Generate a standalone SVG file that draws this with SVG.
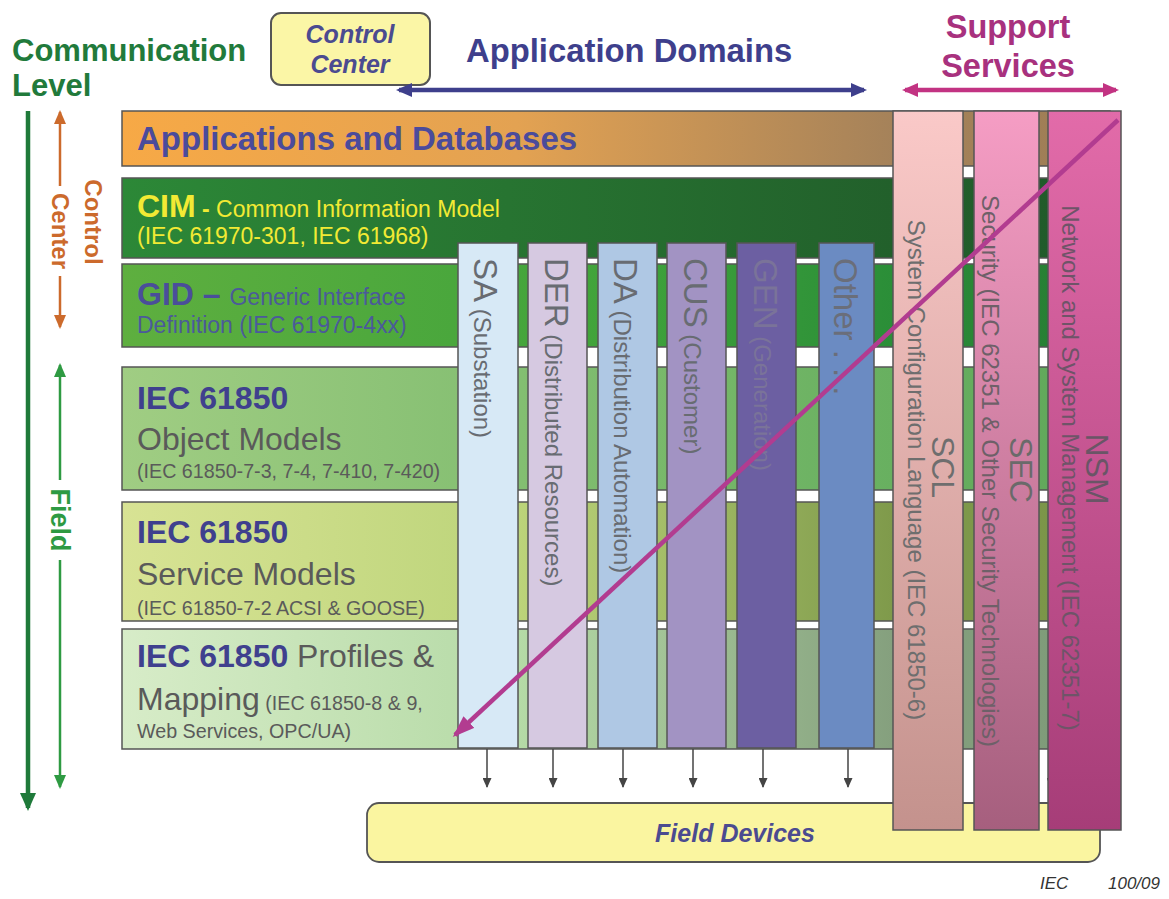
<svg xmlns="http://www.w3.org/2000/svg" width="1169" height="899" viewBox="0 0 1169 899">
<style>
text{font-family:"Liberation Sans",Arial,sans-serif}
.b{font-weight:bold}
.bi{font-weight:bold;font-style:italic}
.row{stroke:#555;stroke-width:1.5}
.col{stroke:#555;stroke-width:1.5}
.big{font-size:32px}
.mid{font-size:23px}
.sm{font-size:19.7px}
.blue{fill:#3F408E}
.gray{fill:#5A5A5A}
.yel{fill:#F2EA34}
.cbig{font-size:33px}
.csm{font-size:24px}
.ctext{fill:#686C72}
.sbig{font-size:32px}
.ssm{font-size:24px}
.dn{stroke:#444;stroke-width:1.5;fill:none}
</style>
<defs>
<linearGradient id="gApps" x1="0" x2="1" y1="0" y2="0"><stop offset="0" stop-color="#F7A946"/><stop offset="0.4" stop-color="#E3A252"/><stop offset="0.78" stop-color="#A5825A"/><stop offset="1" stop-color="#9E7D55"/></linearGradient>
<linearGradient id="gCIM" x1="0" x2="1" y1="0" y2="0"><stop offset="0" stop-color="#2C8837"/><stop offset="0.78" stop-color="#22602B"/><stop offset="1" stop-color="#21592A"/></linearGradient>
<linearGradient id="gGID" x1="0" x2="1" y1="0" y2="0"><stop offset="0" stop-color="#5EAF3F"/><stop offset="0.5" stop-color="#40A33B"/><stop offset="0.78" stop-color="#2B8E38"/><stop offset="1" stop-color="#267A33"/></linearGradient>
<linearGradient id="gOM" x1="0" x2="1" y1="0" y2="0"><stop offset="0" stop-color="#A0CD83"/><stop offset="0.78" stop-color="#68B060"/><stop offset="1" stop-color="#60A65A"/></linearGradient>
<linearGradient id="gSM" x1="0" x2="1" y1="0" y2="0"><stop offset="0" stop-color="#D8E394"/><stop offset="0.4" stop-color="#BCD47A"/><stop offset="0.78" stop-color="#7F9A4B"/><stop offset="1" stop-color="#7A9448"/></linearGradient>
<linearGradient id="gPM" x1="0" x2="1" y1="0" y2="0"><stop offset="0" stop-color="#D7ECC8"/><stop offset="0.4" stop-color="#B5DAA6"/><stop offset="0.78" stop-color="#85A07E"/><stop offset="1" stop-color="#7D9A78"/></linearGradient>
<linearGradient id="gSCL" x1="0" x2="0" y1="0" y2="1"><stop offset="0" stop-color="#FAC9C8"/><stop offset="1" stop-color="#C4928D"/></linearGradient>
<linearGradient id="gSEC" x1="0" x2="0" y1="0" y2="1"><stop offset="0" stop-color="#F59DC4"/><stop offset="1" stop-color="#A65F7E"/></linearGradient>
<linearGradient id="gNSM" x1="0" x2="0" y1="0" y2="1"><stop offset="0" stop-color="#E26BA9"/><stop offset="1" stop-color="#A63D78"/></linearGradient>
<marker id="mBlue" viewBox="0 0 16 14" refX="13" refY="7" markerWidth="16" markerHeight="14" markerUnits="userSpaceOnUse" orient="auto-start-reverse"><path d="M0,0 L16,7 L0,14 z" fill="#3E3F8C"/></marker>
<marker id="mMag" viewBox="0 0 16 14" refX="13" refY="7" markerWidth="16" markerHeight="14" markerUnits="userSpaceOnUse" orient="auto-start-reverse"><path d="M0,0 L16,7 L0,14 z" fill="#C23382"/></marker>
<marker id="mOr" viewBox="0 0 14 12" refX="12" refY="6" markerWidth="14" markerHeight="12" markerUnits="userSpaceOnUse" orient="auto-start-reverse"><path d="M0,0 L14,6 L0,12 z" fill="#CC6A2C"/></marker>
<marker id="mGrn" viewBox="0 0 14 12" refX="12" refY="6" markerWidth="14" markerHeight="12" markerUnits="userSpaceOnUse" orient="auto-start-reverse"><path d="M0,0 L14,6 L0,12 z" fill="#2E9A42"/></marker>
<marker id="mDG" viewBox="0 0 18 16" refX="15" refY="8" markerWidth="18" markerHeight="16" markerUnits="userSpaceOnUse" orient="auto"><path d="M0,0 L18,8 L0,16 z" fill="#1F7A3A"/></marker>
<marker id="mDn" viewBox="0 0 10 9" refX="9" refY="4.5" markerWidth="10" markerHeight="9" markerUnits="userSpaceOnUse" orient="auto"><path d="M0,0 L10,4.5 L0,9 z" fill="#444"/></marker>
<marker id="mDiag" viewBox="0 0 22 16" refX="19" refY="8" markerWidth="22" markerHeight="16" markerUnits="userSpaceOnUse" orient="auto"><path d="M0,0 L22,8 L0,16 z" fill="#B23C90"/></marker>
</defs>
<rect width="1169" height="899" fill="#fff"/>

<g id="title-level">
<text class="b" x="12" y="61" font-size="31" fill="#217A3B">Communication</text>
<text class="b" x="12" y="96" font-size="31" fill="#217A3B">Level</text>
</g>
<g id="control-center-box">
<rect x="271" y="13" width="159" height="72" rx="10" fill="#FBF6A6" stroke="#555" stroke-width="2"/>
<text class="bi" x="350" y="43" font-size="25" fill="#4B4B90" text-anchor="middle">Control</text>
<text class="bi" x="350" y="73" font-size="25" fill="#4B4B90" text-anchor="middle">Center</text>
</g>
<g id="app-domains-title">
<text class="b" x="466" y="62" font-size="32.8" fill="#3E3F8C">Application Domains</text>
</g>
<g id="support-services-title">
<text class="b" x="1008" y="38" font-size="32.5" fill="#A8317E" text-anchor="middle">Support</text>
<text class="b" x="1008" y="77" font-size="32.5" fill="#A8317E" text-anchor="middle">Services</text>
</g>

<g id="row-apps">
<rect class="row" x="122" y="111" width="988" height="55" fill="url(#gApps)"/>
<text class="b" x="137" y="150" font-size="33" fill="#4B4B9B">Applications and Databases</text>
</g>
<g id="row-cim">
<rect class="row" x="122" y="178" width="988" height="80" fill="url(#gCIM)"/>
<text x="137" y="217" class="yel"><tspan class="b big">CIM</tspan><tspan class="b mid"> - </tspan><tspan class="mid">Common Information Model</tspan></text>
<text x="137" y="244" class="yel mid">(IEC 61970-301, IEC 61968)</text>
</g>
<g id="row-gid">
<rect class="row" x="122" y="264" width="988" height="83" fill="url(#gGID)"/>
<text x="137" y="305"><tspan class="b big" fill="#4A4E9A">GID – </tspan><tspan class="mid" fill="#4B5A9A">Generic Interface</tspan></text>
<text x="137" y="333" class="mid" fill="#4B5A9A">Definition (IEC 61970-4xx)</text>
</g>
<g id="row-object-models">
<rect class="row" x="122" y="367" width="988" height="123" fill="url(#gOM)"/>
<text x="137" y="409" class="b big blue">IEC 61850</text>
<text x="137" y="450" class="big gray">Object Models</text>
<text x="137" y="478" class="sm gray">(IEC 61850-7-3, 7-4, 7-410, 7-420)</text>
</g>
<g id="row-service-models">
<rect class="row" x="122" y="502" width="988" height="119" fill="url(#gSM)"/>
<text x="137" y="543" class="b big blue">IEC 61850</text>
<text x="137" y="585" class="big gray">Service Models</text>
<text x="137" y="615" class="sm gray">(IEC 61850-7-2 ACSI &amp; GOOSE)</text>
</g>
<g id="row-profiles">
<rect class="row" x="122" y="629" width="988" height="120" fill="url(#gPM)"/>
<text x="137" y="667"><tspan class="b big blue">IEC 61850</tspan><tspan class="big gray"> Profiles &amp;</tspan></text>
<text x="137" y="710"><tspan class="big gray">Mapping</tspan><tspan class="sm gray"> (IEC 61850-8 &amp; 9,</tspan></text>
<text x="137" y="738" class="sm gray">Web Services, OPC/UA)</text>
</g>

<g id="col-sa">
<rect class="col" x="458" y="243" width="60" height="505" fill="#D7E9F6"/>
<text class="ctext" transform="translate(474,258) rotate(90)"><tspan class="cbig">SA</tspan><tspan class="csm"> (Substation)</tspan></text>
</g>
<g id="col-der">
<rect class="col" x="528" y="243" width="59" height="505" fill="#D6C9E1"/>
<text class="ctext" transform="translate(545,258) rotate(90)"><tspan class="cbig">DER</tspan><tspan class="csm"> (Distributed Resources)</tspan></text>
</g>
<g id="col-da">
<rect class="col" x="598" y="243" width="59" height="505" fill="#AFC8E4"/>
<text class="ctext" transform="translate(614,258) rotate(90)"><tspan class="cbig">DA</tspan><tspan class="csm"> (Distribution Automation)</tspan></text>
</g>
<g id="col-cus">
<rect class="col" x="667" y="243" width="59" height="505" fill="#A293C3"/>
<text class="ctext" transform="translate(684,258) rotate(90)"><tspan class="cbig">CUS</tspan><tspan class="csm"> (Customer)</tspan></text>
</g>
<g id="col-gen">
<rect class="col" x="737" y="243" width="59" height="505" fill="#6C5FA2"/>
<text fill="#7A7399" transform="translate(754,258) rotate(90)"><tspan class="cbig">GEN</tspan><tspan class="csm"> (Generation)</tspan></text>
</g>
<g id="col-other">
<rect class="col" x="819" y="243" width="55" height="505" fill="#6B8BC2"/>
<text fill="#6A6E7A" transform="translate(834,258) rotate(90)"><tspan class="cbig">Other . . .</tspan></text>
</g>

<g id="field-devices">
<rect x="367" y="803" width="733" height="59" rx="12" fill="#FAF5A0" stroke="#555" stroke-width="1.8"/>
<text class="bi" x="735" y="842" font-size="25" fill="#4B4B90" text-anchor="middle">Field Devices</text>
</g>

<g id="connectors">
<line class="dn" x1="487" y1="749" x2="487" y2="787" marker-end="url(#mDn)"/>
<line class="dn" x1="553" y1="749" x2="553" y2="787" marker-end="url(#mDn)"/>
<line class="dn" x1="623" y1="749" x2="623" y2="787" marker-end="url(#mDn)"/>
<line class="dn" x1="693" y1="749" x2="693" y2="787" marker-end="url(#mDn)"/>
<line class="dn" x1="763" y1="749" x2="763" y2="787" marker-end="url(#mDn)"/>
<line class="dn" x1="848" y1="749" x2="848" y2="787" marker-end="url(#mDn)"/>
<line class="dn" x1="1051" y1="749" x2="1051" y2="787" marker-end="url(#mDn)"/>
<line x1="399" y1="90" x2="864" y2="90" stroke="#3E3F8C" stroke-width="4.5" marker-start="url(#mBlue)" marker-end="url(#mBlue)"/>
<line x1="905" y1="90" x2="1116" y2="90" stroke="#C23382" stroke-width="4.5" marker-start="url(#mMag)" marker-end="url(#mMag)"/>
<line x1="28" y1="111" x2="28" y2="808" stroke="#1F7A3A" stroke-width="4.5" marker-end="url(#mDG)"/>
<line x1="60" y1="112" x2="60" y2="186" stroke="#CC6A2C" stroke-width="2.5" marker-start="url(#mOr)"/>
<line x1="60" y1="276" x2="60" y2="327" stroke="#CC6A2C" stroke-width="2.5" marker-end="url(#mOr)"/>
<line x1="60" y1="365" x2="60" y2="480" stroke="#2E9A42" stroke-width="2.5" marker-start="url(#mGrn)"/>
<line x1="60" y1="560" x2="60" y2="787" stroke="#2E9A42" stroke-width="2.5" marker-end="url(#mGrn)"/>
</g>

<g id="label-control-center">
<text class="b" font-size="24" fill="#CC6A2C" text-anchor="middle" transform="translate(85,222) rotate(90)">Control</text>
<text class="b" font-size="24" fill="#CC6A2C" text-anchor="middle" transform="translate(52,231) rotate(90)">Center</text>
</g>
<g id="label-field">
<text class="b" font-size="27" fill="#2E9A42" text-anchor="middle" transform="translate(51,520) rotate(90)">Field</text>
</g>

<g id="col-scl">
<rect class="col" x="893" y="111" width="70" height="719" fill="url(#gSCL)"/>
<text class="sbig" fill="#6E6E6E" text-anchor="middle" transform="translate(932,467) rotate(90)">SCL</text>
<text class="ssm" fill="#6E6E6E" text-anchor="middle" transform="translate(908,470) rotate(90)">System Configuration Language (IEC 61850-6)</text>
</g>
<g id="col-sec">
<rect class="col" x="974" y="111" width="65" height="719" fill="url(#gSEC)"/>
<text class="sbig" fill="#6A6A6A" text-anchor="middle" transform="translate(1010,470) rotate(90)">SEC</text>
<text class="ssm" fill="#6E6068" text-anchor="middle" transform="translate(982,471) rotate(90)">Security (IEC 62351 &amp; Other Security Technologies)</text>
</g>
<g id="col-nsm">
<rect class="col" x="1048" y="111" width="73" height="719" fill="url(#gNSM)"/>
<text class="sbig" fill="#6A5566" text-anchor="middle" transform="translate(1086,469) rotate(90)">NSM</text>
<text class="ssm" fill="#6E5468" text-anchor="middle" transform="translate(1062,468) rotate(90)">Network and System Management (IEC 62351-7)</text>
</g>

<g id="diagonal-arrow">
<line x1="1118" y1="120" x2="455" y2="735" stroke="#B23C90" stroke-width="4.5" marker-end="url(#mDiag)"/>
</g>

<g id="figure-id">
<text x="1040" y="889" font-size="17" font-style="italic" fill="#333">IEC</text>
<text x="1160" y="889" font-size="17" font-style="italic" fill="#333" text-anchor="end">100/09</text>
</g>
</svg>
